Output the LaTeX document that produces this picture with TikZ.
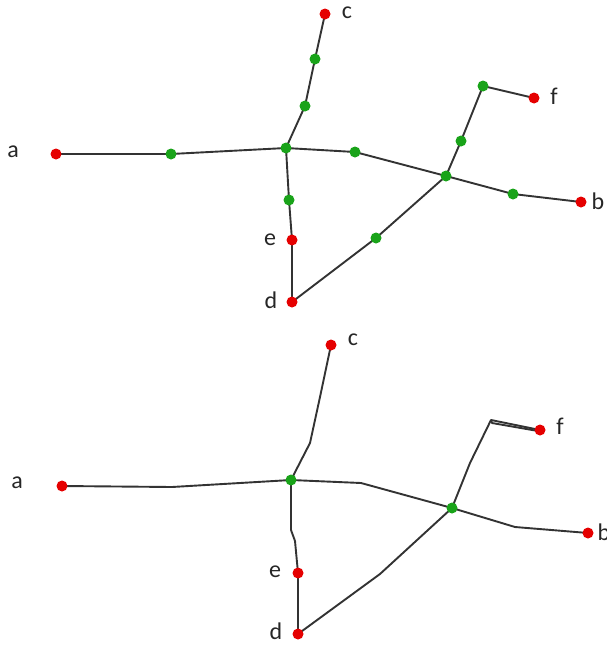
\documentclass[tikz,border=0pt]{standalone}
\usepackage{fontspec}
\setmainfont{Carlito}
\usetikzlibrary{calc}
\begin{document}
\begin{tikzpicture}[x=1pt,y=-1pt,
  edge/.style={draw=black!80, line width=1.9pt, line join=round},
  reddot/.style={circle, fill=red!90!black, inner sep=0pt, minimum size=11pt},
  greendot/.style={circle, fill=green!60!black!90, inner sep=0pt, minimum size=11pt},
  lbl/.style={font=\fontsize{24}{28}\selectfont, text=black!85, inner sep=0pt}]
\useasboundingbox (0,0) rectangle (607,648);

% ---------- upper graph: all subdivision points ----------
\coordinate (uc) at (325,14);
\coordinate (uc1) at (315,59);
\coordinate (uc2) at (305,106);
\coordinate (uX) at (286,148);
\coordinate (ua) at (56,154);
\coordinate (ua1) at (171,154);
\coordinate (ur1) at (355,152);
\coordinate (uH) at (446,176);
\coordinate (ub1) at (513,194);
\coordinate (ub) at (581,202);
\coordinate (uf1) at (461,141);
\coordinate (uf2) at (483,86);
\coordinate (uf) at (534,98);
\coordinate (ue1) at (289,200);
\coordinate (ue) at (292,240);
\coordinate (ud) at (292,302);
\coordinate (ud1) at (376,238);

\draw[edge] (uc) -- (uc1) -- (uc2) -- (uX);
\draw[edge] (ua) -- (ua1) -- (uX) -- (ur1) -- (uH) -- (ub1) -- (ub);
\draw[edge] (uH) -- (uf1) -- (uf2) -- (uf);
\draw[edge] (uX) -- (ue1) -- (ue) -- (ud) -- (ud1) -- (uH);

\foreach \p in {uc1,uc2,uX,ua1,ur1,uH,ub1,uf1,uf2,ue1,ud1}
  \node[greendot] at (\p) {};
\foreach \p in {uc,ua,ub,uf,ue,ud}
  \node[reddot] at (\p) {};

\node[lbl] (lua) at (13,152) {a};
\node[lbl] (lub) at (598,201) {b};
\node[lbl] (luc) at (347,13) {c};
\node[lbl] (lud) at (271,300) {d};
\node[lbl] (lue) at (270,240) {e};
\node[lbl] (luf) at (554,96) {f};

% ---------- lower graph: contracted, only branch points kept ----------
\coordinate (lc) at (331,345);
\coordinate (lc1) at (320,397);
\coordinate (lc2) at (310,443);
\coordinate (lX) at (291,480);
\coordinate (la) at (62,486);
\coordinate (la1) at (172,487);
\coordinate (lr1) at (361,483);
\coordinate (lH) at (452,508);
\coordinate (lb1) at (515,527);
\coordinate (lb) at (588,533);
\coordinate (lf1) at (470,463);
\coordinate (lf2) at (491,420);
\coordinate (lf) at (540,430);
\coordinate (le1) at (291,530);
\coordinate (le2) at (295,541);
\coordinate (le) at (298,573);
\coordinate (ld) at (298,634);
\coordinate (ld1) at (380,574);

\draw[edge] (lc) -- (lc1) -- (lc2) -- (lX);
\draw[edge] (la) -- (la1) -- (lX) -- (lr1) -- (lH) -- (lb1) -- (lb);
\draw[edge] (lH) -- (lf1) -- (lf2) -- (lf);
\draw[edge] (lf2) -- ++(1,3) -- ($(lf)+(-2,1)$);
\draw[edge] (lX) -- (le1) -- (le2) -- (le) -- (ld) -- (ld1) -- (lH);

\foreach \p in {lX,lH}
  \node[greendot] at (\p) {};
\foreach \p in {lc,la,lb,lf,le,ld}
  \node[reddot] at (\p) {};

\node[lbl] (lla) at (17,483) {a};
\node[lbl] (llb) at (604,532) {b};
\node[lbl] (llc) at (353,340) {c};
\node[lbl] (lld) at (276,631) {d};
\node[lbl] (lle) at (275,572) {e};
\node[lbl] (llf) at (560,426) {f};
\end{tikzpicture}
\end{document}
